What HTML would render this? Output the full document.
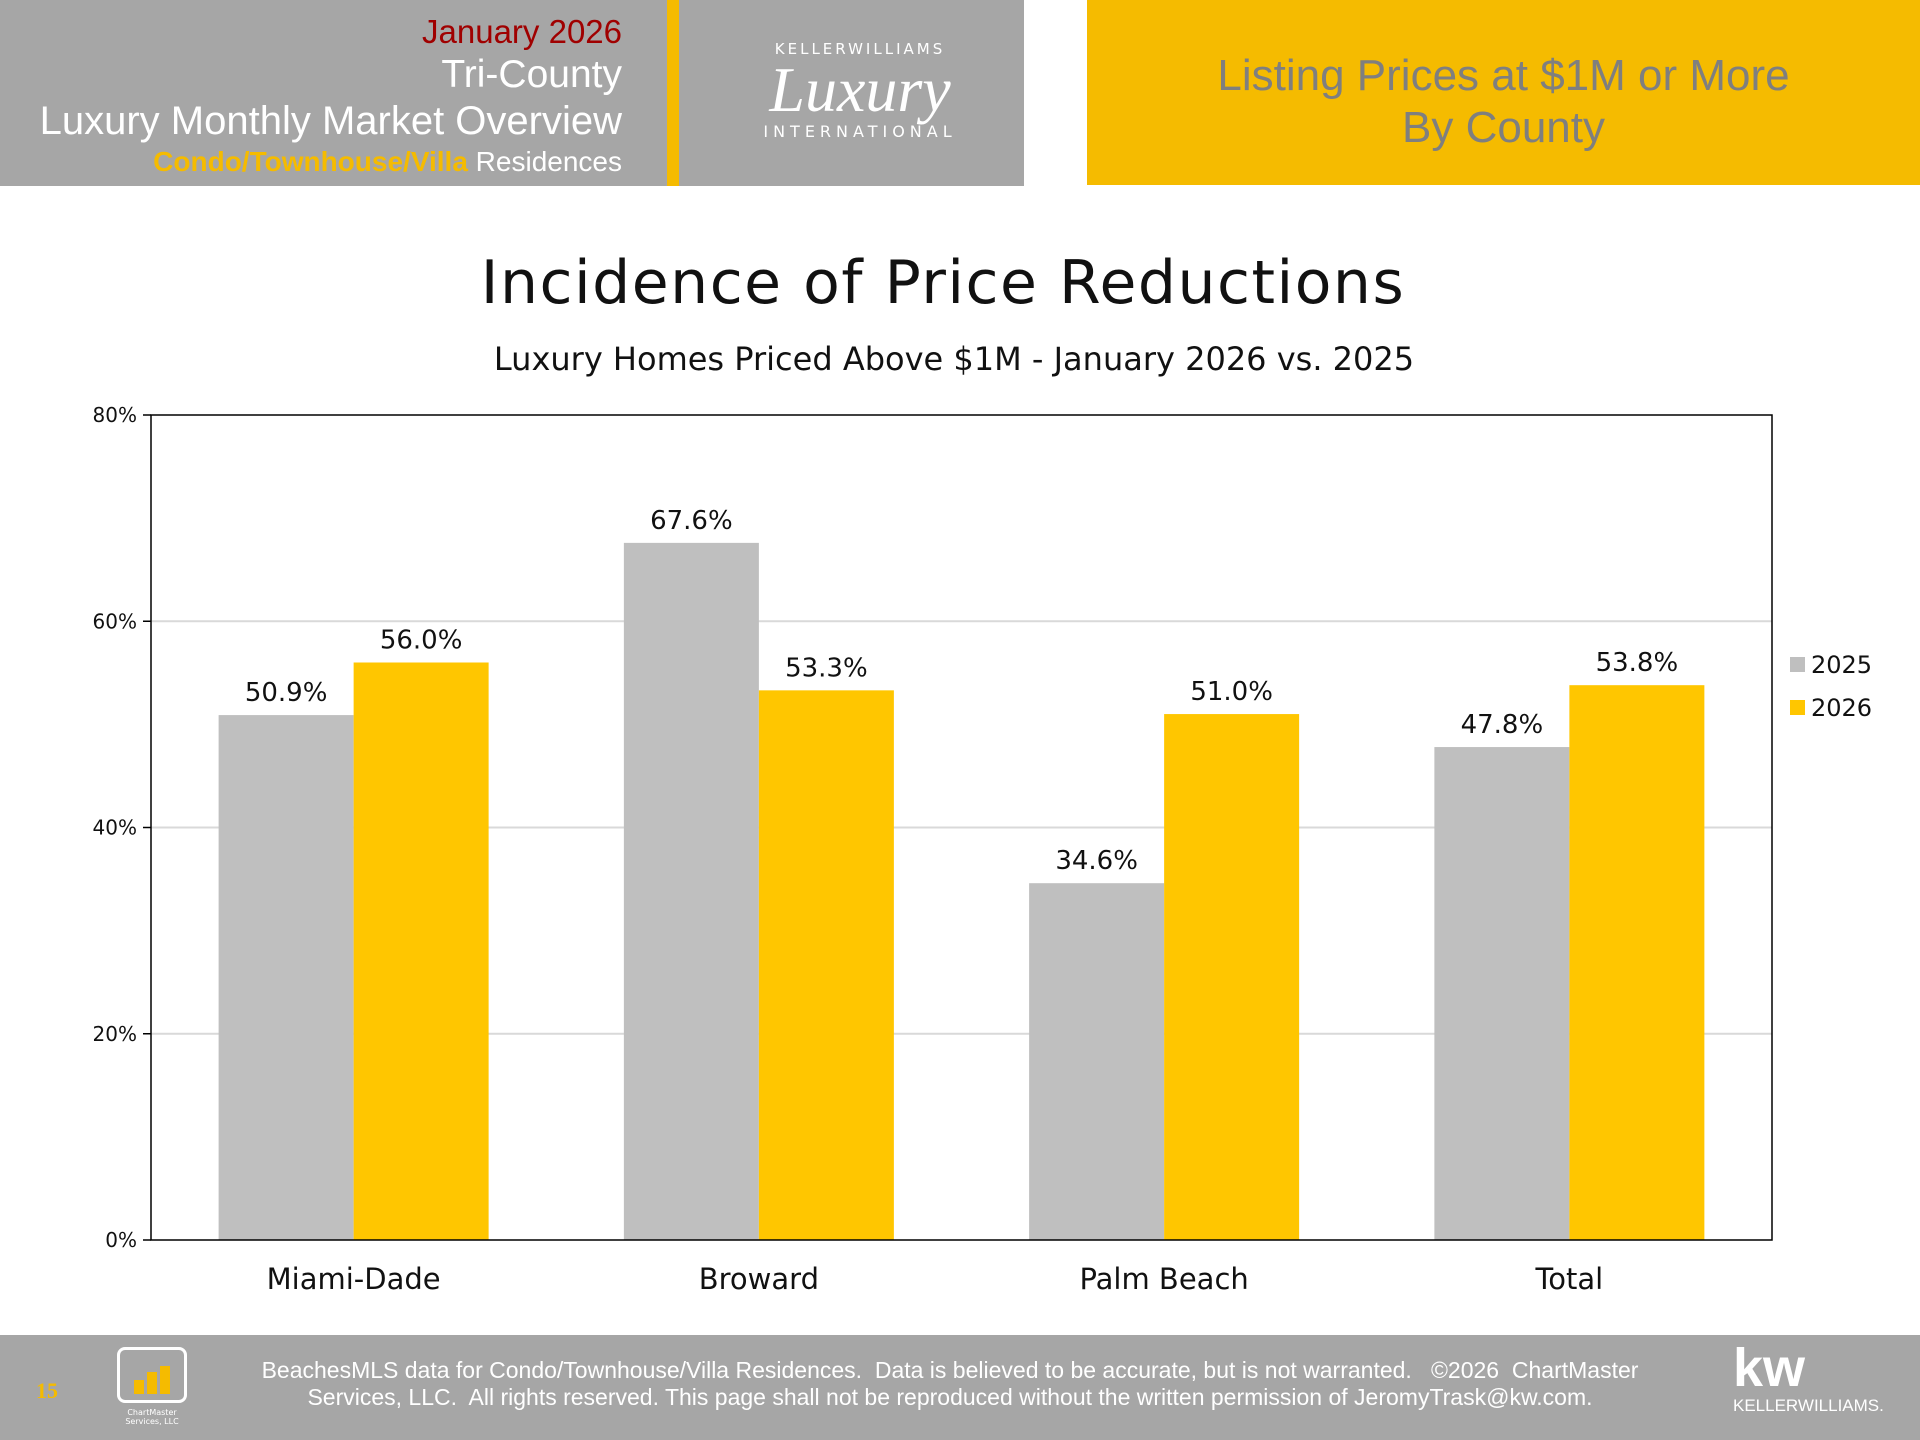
<!DOCTYPE html>
<html><head><meta charset="utf-8"><style>
body{margin:0;width:1920px;height:1440px;background:#fff;position:relative;overflow:hidden;font-family:"DejaVu Sans","Liberation Sans",sans-serif}
.abs{position:absolute}
</style></head><body>
<div class="abs" style="left:0;top:0;width:1024px;height:186px;background:#a6a6a6"></div>
<div class="abs" style="left:667px;top:0;width:12px;height:186px;background:#f5bb00"></div>
<div class="abs" style="right:1298px;top:12px;text-align:right;color:#fff;font-family:'Liberation Sans',sans-serif;font-weight:300">
 <div style="color:#a00000;font-size:33px;line-height:40px">January 2026</div>
 <div style="font-size:39px;line-height:46px">Tri-County</div>
 <div style="font-size:40px;line-height:46px;white-space:nowrap">Luxury Monthly Market Overview</div>
 <div style="font-size:28px;line-height:36px;white-space:nowrap"><span style="color:#f5bb00;font-weight:bold">Condo/Townhouse/Villa</span> Residences</div>
</div>
<div class="abs" style="left:700px;top:40px;width:320px;color:#fff;text-align:center">
 <div style="font-size:15px;letter-spacing:3px">KELLERWILLIAMS</div>
 <div style="font-family:'Liberation Serif',serif;font-style:italic;font-size:64px;line-height:64px">Luxury</div>
 <div style="font-size:16px;letter-spacing:5px">INTERNATIONAL</div>
</div>
<div class="abs" style="left:1087px;top:0;width:833px;height:185px;background:#f5bb00;color:#7f7f7f;text-align:center;font-family:'Liberation Sans',sans-serif;font-size:44px;line-height:52px;padding-top:50px;box-sizing:border-box">Listing Prices at $1M or More<br>By County</div>

<div class="abs" style="left:0;width:1886px;top:248px;text-align:center;font-size:60px;letter-spacing:1.5px;color:#111">Incidence of Price Reductions</div>
<div class="abs" style="left:0;width:1908px;top:340px;text-align:center;font-size:32px;color:#111">Luxury Homes Priced Above $1M - January 2026 vs. 2025</div>

<svg class="abs" style="left:0;top:0" width="1920" height="1440">
<g id="g"></g>
</svg>

<div class="abs" style="left:0;top:1335px;width:1920px;height:105px;background:#a6a6a6"></div>
<div class="abs" style="left:36px;top:1378px;color:#f5bb00;font-family:'Liberation Serif',serif;font-size:22px;font-weight:bold">15</div>
<div class="abs" style="left:117px;top:1347px;width:70px;height:56px;border:3px solid #fff;border-radius:8px;box-sizing:border-box">
 <div style="position:absolute;left:14px;bottom:6px;width:10px;height:14px;background:#f5bb00"></div>
 <div style="position:absolute;left:27px;bottom:6px;width:10px;height:22px;background:#f5bb00"></div>
 <div style="position:absolute;left:40px;bottom:6px;width:10px;height:28px;background:#f5bb00"></div>
</div>
<div class="abs" style="left:110px;top:1408px;width:84px;color:#fff;font-size:8px;text-align:center">ChartMaster<br>Services, LLC</div>
<div class="abs" style="left:180px;width:1540px;top:1357px;text-align:center;color:#fff;font-family:'Liberation Sans',sans-serif;font-size:23px;line-height:27px">BeachesMLS data for Condo/Townhouse/Villa Residences.&nbsp; Data is believed to be accurate, but is not warranted.&nbsp;&nbsp; ©2026&nbsp; ChartMaster<br>Services, LLC.&nbsp; All rights reserved. This page shall not be reproduced without the written permission of JeromyTrask@kw.com.</div>
<div class="abs" style="left:1733px;top:1340px;color:#fff;font-family:'Liberation Sans',sans-serif">
 <div style="font-size:54px;font-weight:bold;line-height:56px">kw</div>
 <div style="font-size:17px">KELLERWILLIAMS.</div>
</div>

<script>
const categories=["Miami-Dade","Broward","Palm Beach","Total"];
const series2025=[50.9,67.6,34.6,47.8];
const series2026=[56.0,53.3,51.0,53.8];
const yTicks=[0,20,40,60,80];
const seriesNames=["2025","2026"];
const colors=["#bfbfbf","#ffc600"];
const L=151,R=1772,T=415,B=1240,yMax=80;
const y=v=>B-(v/yMax)*(B-T);
const gw=(R-L)/categories.length, bw=135;
const g=document.getElementById('g');
const NS="http://www.w3.org/2000/svg";
function mk(t,a,txt){const e=document.createElementNS(NS,t);for(const k in a)e.setAttribute(k,a[k]);if(txt!=null)e.textContent=txt;g.appendChild(e);return e;}
yTicks.forEach(t=>{
 if(t>0&&t<yMax){const l=mk('line',{x1:L,x2:R,y1:y(t),y2:y(t),stroke:'#d9d9d9','stroke-width':2});
 }
 const tk=mk('line',{x1:L-8,x2:L,y1:y(t),y2:y(t),stroke:'#000','stroke-width':1.5});
 const tx=mk('text',{x:L-14,y:y(t)+7,'text-anchor':'end','font-size':20,fill:'#111'},t+'%');
 
 
});
[series2025,series2026].forEach((s,si)=>{
 s.forEach((v,i)=>{
  const cx=L+gw*(i+0.5);
  const x=si===0?cx-bw:cx;
  const r=mk('rect',{x:x,y:y(v),width:bw,height:B-y(v),fill:colors[si]});
  
  
  const t=mk('text',{x:x+bw/2,y:y(v)-14,'text-anchor':'middle','font-size':26,fill:'#111'},v.toFixed(1)+'%');
  
  
 });
});
categories.forEach((c,i)=>{
 const t=mk('text',{x:L+gw*(i+0.5),y:B+49,'text-anchor':'middle','font-size':29,fill:'#111'},c);
 
 
});
const fr=mk('rect',{x:L,y:T,width:R-L,height:B-T,fill:'none',stroke:'#000','stroke-width':1.5});


seriesNames.forEach((n,i)=>{
 const yy=665+i*43;
 const sw=mk('rect',{x:1790,y:yy-8,width:15,height:15,fill:colors[i]});
 
 
 const t=mk('text',{x:1811,y:yy+8,'font-size':24,fill:'#111'},n);
 
 
});
</script>
</body></html>
